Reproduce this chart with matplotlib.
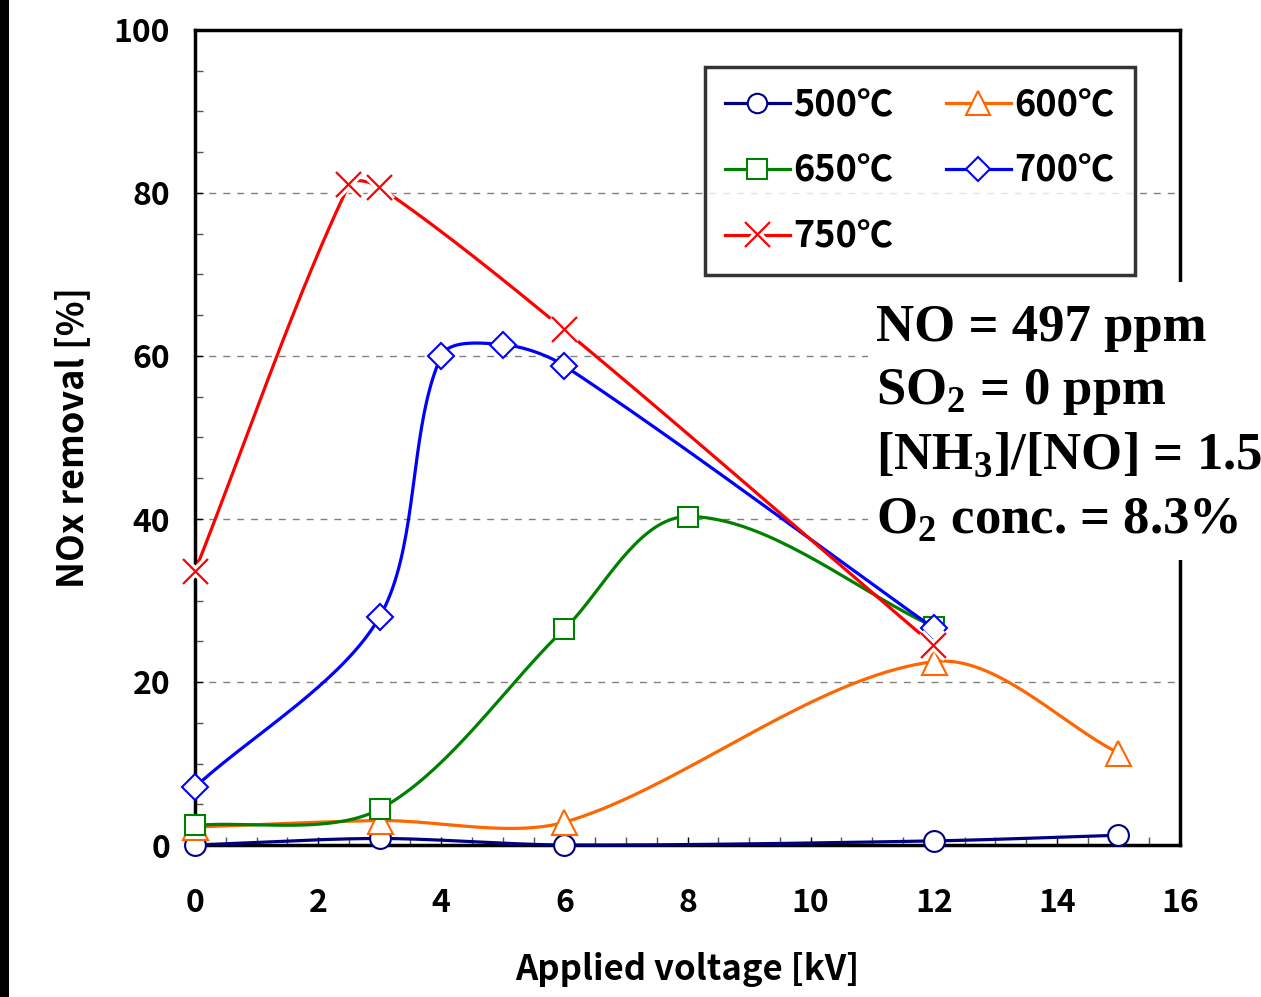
import numpy as np
import matplotlib
matplotlib.use("Agg")
import matplotlib.pyplot as plt
import matplotlib.patheffects as pe
from matplotlib.lines import Line2D
from matplotlib.patches import Rectangle
from matplotlib.ticker import MultipleLocator

# 数据
x_500 = [0, 3, 6, 12, 15]
y_500 = [0.0, 0.8, 0.0, 0.5, 1.2]
x_600 = [0, 3, 6, 12, 15]
y_600 = [2.2, 3.0, 2.8, 22.5, 11.3]
x_650 = [0, 3, 6, 8, 12]
y_650 = [2.4, 4.4, 26.5, 40.3, 26.8]
x_700 = [0, 3, 4, 5, 6, 12]
y_700 = [7.1, 28.0, 60.0, 61.4, 58.8, 26.6]
x_750 = [0, 2.5, 3, 6, 12]
y_750 = [33.6, 81.0, 80.7, 63.2, 24.5]

labels = ["500℃", "600℃", "650℃", "700℃", "750℃"]
colors = ["#000080", "#FF6600", "#008000", "#0000FF", "#FF0000"]
markers = ["o", "^", "s", "D", "x"]
msizes = [15, 18, 15, 13, 18]

x_ticks = [0, 2, 4, 6, 8, 10, 12, 14, 16]
y_ticks = [0, 20, 40, 60, 80, 100]

note_lines = ["NO = 497 ppm", "SO$_\\mathbf{2}$ = 0 ppm",
              "[NH$_\\mathbf{3}$]/[NO] = 1.5", "O$_\\mathbf{2}$ conc. = 8.3%"]

SANS = ['Noto Sans CJK JP', 'DejaVu Sans']
plt.rcParams['font.family'] = SANS
plt.rcParams['mathtext.fontset'] = 'custom'
plt.rcParams['mathtext.rm'] = 'Liberation Serif:bold'
plt.rcParams['mathtext.bf'] = 'Liberation Serif:bold'

XS = 7.55  # x与y的像素比例，平滑时使用


def smooth(xs, ys, n=40):
    # Excel风格的平滑曲线（Bezier），在像素比例下计算切线
    p = np.column_stack([np.array(xs, float) * XS, ys]).astype(float)
    out = [p[0]]
    for i in range(len(p) - 1):
        p0 = p[i - 1] if i > 0 else p[i]
        p1, p2 = p[i], p[i + 1]
        p3 = p[i + 2] if i + 2 < len(p) else p[i + 1]
        L = np.linalg.norm(p2 - p1)
        t1 = p2 - p0
        t2 = p3 - p1
        t1 = t1 / np.linalg.norm(t1)
        t2 = t2 / np.linalg.norm(t2)
        c1 = p1 + t1 * L * 0.3
        c2 = p2 - t2 * L * 0.3
        t = np.linspace(0, 1, n)[1:, None]
        seg = ((1 - t) ** 3) * p1 + 3 * ((1 - t) ** 2) * t * c1 + 3 * (1 - t) * t ** 2 * c2 + t ** 3 * p2
        out.extend(seg)
    out = np.array(out)
    return out[:, 0] / XS, out[:, 1]


fig = plt.figure(figsize=(12.61, 9.97), dpi=100)
ax = fig.add_axes([195 / 1261, 1 - 845 / 997, (1180 - 195) / 1261, (845 - 30) / 997])

# 左侧黑条
fig.patches.append(Rectangle((0, 0), 9 / 1261, 1, transform=fig.transFigure,
                             facecolor="black", edgecolor="none"))

halo = [pe.Stroke(linewidth=6, foreground="white"), pe.Normal()]
series = [(x_500, y_500), (x_600, y_600), (x_650, y_650), (x_700, y_700), (x_750, y_750)]
for i, (xs, ys) in enumerate(series):
    sx, sy = smooth(xs, ys)
    ax.plot(sx, sy, color=colors[i], lw=2.3, zorder=3 + i, clip_on=False, solid_capstyle="butt")
    if markers[i] == "x":
        ax.plot(xs, ys, ls="none", marker="x", ms=msizes[i], mew=1.6, color=colors[i],
                zorder=3.5 + i, clip_on=False, path_effects=halo)
    else:
        ax.plot(xs, ys, ls="none", marker=markers[i], ms=msizes[i], mew=1.5,
                mec=colors[i], mfc="white", zorder=3.5 + i, clip_on=False)

ax.set_xlim(0, 16)
ax.set_ylim(0, 100)
ax.set_xticks(x_ticks)
ax.set_yticks(y_ticks)
ax.xaxis.set_minor_locator(MultipleLocator(0.5))
ax.yaxis.set_minor_locator(MultipleLocator(5))
ax.tick_params(which="both", direction="in", width=1, colors="black", labelsize=23)
ax.tick_params(which="major", length=6)
ax.tick_params(which="minor", length=6, color="#555555")
ax.tick_params(axis="x", pad=30)
ax.tick_params(axis="y", pad=18)
for lab in ax.get_xticklabels() + ax.get_yticklabels():
    lab.set_fontweight("bold")

for s in ax.spines.values():
    s.set_linewidth(2.5)
    s.set_zorder(2)

for yv in [20, 40, 60, 80]:
    ax.axhline(yv, color="#808080", lw=1, ls=(0, (5, 5)), zorder=1)

ax.set_xlabel("Applied voltage [kV]", fontsize=25, labelpad=24, fontweight="bold")
ax.set_ylabel("NOx removal [%]", fontsize=26, labelpad=16, fontweight="bold")

# 图例
handles = []
for i in range(5):
    if markers[i] == "x":
        h = Line2D([], [], color=colors[i], lw=2.3, marker="x", ms=msizes[i], mew=1.6,
                   path_effects=halo)
    else:
        h = Line2D([], [], color=colors[i], lw=2.3, marker=markers[i], ms=msizes[i] - 1,
                   mew=1.5, mec=colors[i], mfc="white")
    handles.append(h)
order = [0, 2, 4, 1, 3]
leg = ax.legend([handles[k] for k in order], [labels[k] for k in order], ncol=2,
                loc="upper left", bbox_to_anchor=((705 - 195) / 985, 1 - (67 - 30) / 815),
                prop={"size": 26, "weight": "bold", "family": SANS},
                frameon=True, fancybox=False, edgecolor="black",
                handlelength=1.8, handletextpad=0.1, columnspacing=1.45,
                labelspacing=0.8, borderpad=0.55, borderaxespad=0)
leg.get_frame().set_linewidth(2.5)
leg.set_zorder(20)

# 条件注释
fig.patches.append(Rectangle((868 / 1261, 1 - 560 / 997), (1261 - 868) / 1261, (560 - 282) / 997,
                             transform=fig.transFigure, facecolor="white", edgecolor="none",
                             zorder=30))
for k, t in enumerate(note_lines):
    fig.text(876 / 1261, 1 - (328 + 64 * k) / 997, t, fontsize=38, fontweight="bold",
             family="Liberation Serif", va="center", ha="left", zorder=31)

fig.savefig("out.png", dpi=100, facecolor="white")
